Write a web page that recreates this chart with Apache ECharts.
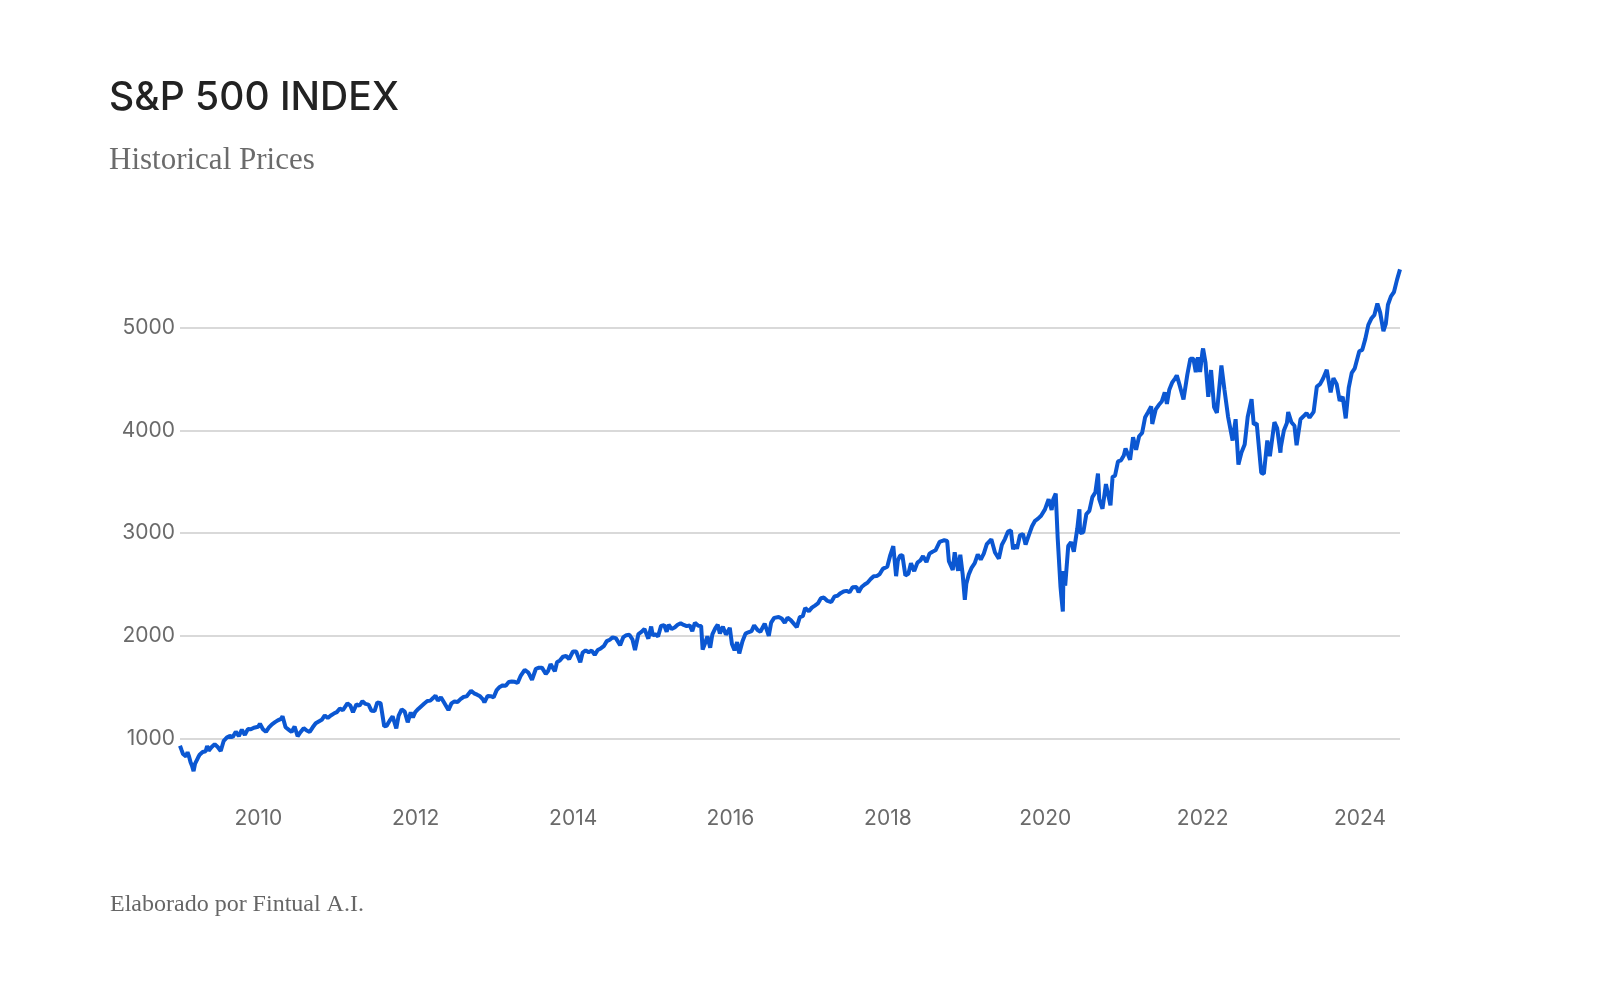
<!DOCTYPE html>
<html>
<head>
<meta charset="utf-8">
<script src="https://cdn.jsdelivr.net/npm/echarts@6/dist/echarts.min.js"></script>
<style>
html,body{margin:0;padding:0;background:#fff;}
#chart{width:1600px;height:1000px;}
</style>
</head>
<body>
<div id="chart"></div>
<script>
// ---- Data (approximate S&P 500 levels) ----
const title = 'S&P 500 INDEX';
const subtitle = 'Historical Prices';
const footer = 'Elaborado por Fintual A.I.';
const yTicks = [1000, 2000, 3000, 4000, 5000];
const xTicks = ['2010-01-01','2012-01-01','2014-01-01','2016-01-01','2018-01-01','2020-01-01','2022-01-01','2024-01-01'];

const p2009 = [['2009-01-02',931],['2009-01-09',890],['2009-01-16',850],['2009-01-23',832],['2009-01-30',826],['2009-02-06',869],['2009-02-13',827],['2009-02-20',770],['2009-02-27',735],['2009-03-06',683],['2009-03-13',756],['2009-03-20',768],['2009-03-27',816],['2009-04-03',843],['2009-04-17',870],['2009-05-01',877],['2009-05-08',929],['2009-05-15',882],['2009-05-29',919],['2009-06-12',946],['2009-06-26',918],['2009-07-10',879],['2009-07-24',979],['2009-08-07',1010],['2009-08-21',1026],['2009-09-04',1016],['2009-09-18',1068],['2009-10-02',1025],['2009-10-16',1087],['2009-10-30',1036],['2009-11-13',1093],['2009-11-27',1091],['2009-12-11',1106],['2009-12-31',1115]];
const p2010 = [['2010-01-08',1145],['2010-01-22',1092],['2010-02-05',1066],['2010-02-19',1109],['2010-03-05',1139],['2010-03-19',1160],['2010-04-01',1178],['2010-04-16',1192],['2010-04-23',1217],['2010-05-07',1111],['2010-05-21',1088],['2010-06-04',1065],['2010-06-18',1117],['2010-07-02',1023],['2010-07-16',1065],['2010-07-30',1102],['2010-08-13',1079],['2010-08-27',1065],['2010-09-10',1110],['2010-09-24',1149],['2010-10-08',1166],['2010-10-22',1183],['2010-11-05',1226],['2010-11-19',1200],['2010-12-03',1225],['2010-12-17',1244],['2010-12-31',1258]];
const p2011 = [['2011-01-14',1293],['2011-01-28',1276],['2011-02-18',1343],['2011-03-04',1321],['2011-03-16',1257],['2011-04-01',1333],['2011-04-15',1320],['2011-04-29',1364],['2011-05-13',1338],['2011-05-27',1331],['2011-06-10',1271],['2011-06-24',1268],['2011-07-07',1353],['2011-07-22',1345],['2011-08-08',1119],['2011-08-19',1124],['2011-09-02',1174],['2011-09-16',1216],['2011-10-03',1099],['2011-10-14',1225],['2011-10-28',1285],['2011-11-11',1263],['2011-11-25',1159],['2011-12-09',1255],['2011-12-19',1206],['2011-12-30',1258]];
const p2012 = [['2012-01-13',1289],['2012-01-27',1316],['2012-02-10',1342],['2012-02-24',1366],['2012-03-09',1370],['2012-03-23',1397],['2012-04-02',1419],['2012-04-13',1370],['2012-04-27',1403],['2012-05-11',1353],['2012-06-01',1278],['2012-06-15',1343],['2012-06-29',1362],['2012-07-13',1356],['2012-07-27',1385],['2012-08-10',1405],['2012-08-24',1411],['2012-09-14',1466],['2012-09-28',1441],['2012-10-12',1428],['2012-10-26',1412],['2012-11-09',1380],['2012-11-15',1353],['2012-11-30',1416],['2012-12-14',1413],['2012-12-28',1402]];
const p2013 = [['2013-01-11',1472],['2013-01-25',1503],['2013-02-08',1518],['2013-02-22',1515],['2013-03-08',1551],['2013-03-22',1556],['2013-04-05',1553],['2013-04-18',1541],['2013-05-03',1614],['2013-05-21',1669],['2013-06-07',1643],['2013-06-24',1573],['2013-07-12',1680],['2013-07-26',1691],['2013-08-09',1691],['2013-08-27',1630],['2013-09-06',1655],['2013-09-18',1725],['2013-10-08',1656],['2013-10-18',1744],['2013-11-01',1762],['2013-11-15',1798],['2013-11-29',1806],['2013-12-13',1775],['2013-12-31',1848]];
const p2014 = [['2014-01-15',1848],['2014-02-03',1742],['2014-02-14',1838],['2014-02-28',1859],['2014-03-14',1841],['2014-03-28',1857],['2014-04-11',1815],['2014-04-25',1863],['2014-05-09',1878],['2014-05-23',1900],['2014-06-06',1949],['2014-06-20',1963],['2014-07-03',1985],['2014-07-18',1978],['2014-08-07',1910],['2014-08-22',1988],['2014-09-05',2007],['2014-09-19',2011],['2014-10-03',1967],['2014-10-15',1862],['2014-10-31',2018],['2014-11-14',2039],['2014-11-28',2068],['2014-12-16',1973],['2014-12-29',2091]];
const p2015 = [['2015-01-06',2003],['2015-01-16',2019],['2015-01-30',1995],['2015-02-13',2097],['2015-02-27',2105],['2015-03-11',2040],['2015-03-20',2108],['2015-04-03',2067],['2015-04-17',2081],['2015-05-01',2108],['2015-05-15',2123],['2015-05-29',2107],['2015-06-12',2095],['2015-06-26',2102],['2015-07-08',2047],['2015-07-20',2128],['2015-08-05',2099],['2015-08-18',2097],['2015-08-25',1867],['2015-09-04',1921],['2015-09-16',1996],['2015-09-29',1884],['2015-10-09',2014],['2015-10-23',2075],['2015-11-03',2109],['2015-11-13',2023],['2015-11-27',2090],['2015-12-11',2012],['2015-12-29',2078]];
const p2016 = [['2016-01-08',1922],['2016-01-20',1859],['2016-02-01',1940],['2016-02-11',1829],['2016-02-26',1948],['2016-03-11',2022],['2016-03-24',2035],['2016-04-08',2047],['2016-04-20',2102],['2016-05-06',2057],['2016-05-19',2040],['2016-06-08',2119],['2016-06-27',2000],['2016-07-08',2129],['2016-07-22',2175],['2016-08-12',2184],['2016-08-26',2169],['2016-09-09',2128],['2016-09-22',2177],['2016-10-07',2153],['2016-11-04',2085],['2016-11-18',2182],['2016-12-02',2192],['2016-12-13',2271],['2016-12-30',2239]];
const p2017 = [['2017-01-13',2275],['2017-01-27',2295],['2017-02-10',2316],['2017-02-24',2367],['2017-03-10',2373],['2017-03-24',2344],['2017-04-13',2329],['2017-04-28',2384],['2017-05-12',2391],['2017-05-26',2416],['2017-06-09',2432],['2017-06-23',2438],['2017-07-07',2425],['2017-07-21',2473],['2017-08-08',2475],['2017-08-18',2426],['2017-09-01',2476],['2017-09-15',2500],['2017-09-29',2519],['2017-10-13',2553],['2017-10-27',2581],['2017-11-10',2582],['2017-11-24',2602],['2017-12-08',2652],['2017-12-29',2674]];
const p2018 = [['2018-01-12',2786],['2018-01-26',2873],['2018-02-08',2581],['2018-02-16',2732],['2018-02-26',2780],['2018-03-09',2786],['2018-03-23',2588],['2018-04-06',2604],['2018-04-18',2708],['2018-05-03',2630],['2018-05-18',2713],['2018-06-01',2735],['2018-06-13',2776],['2018-06-29',2718],['2018-07-13',2801],['2018-07-27',2819],['2018-08-10',2833],['2018-08-29',2914],['2018-09-20',2931],['2018-10-03',2925],['2018-10-11',2728],['2018-10-29',2641],['2018-11-07',2814],['2018-11-23',2633],['2018-12-03',2790],['2018-12-14',2600],['2018-12-24',2351],['2018-12-31',2507]];
const p2019 = [['2019-01-11',2596],['2019-01-25',2665],['2019-02-08',2708],['2019-02-22',2793],['2019-03-08',2743],['2019-03-22',2801],['2019-04-05',2893],['2019-04-26',2940],['2019-05-03',2946],['2019-05-13',2812],['2019-05-31',2752],['2019-06-14',2887],['2019-06-28',2942],['2019-07-12',3014],['2019-07-26',3026],['2019-08-05',2844],['2019-08-16',2889],['2019-08-23',2847],['2019-09-06',2979],['2019-09-20',2992],['2019-10-02',2888],['2019-10-18',2986],['2019-11-01',3067],['2019-11-15',3120],['2019-11-29',3141],['2019-12-13',3169],['2019-12-31',3231]];
const p2020 = [['2020-01-17',3330],['2020-01-31',3226],['2020-02-07',3328],['2020-02-19',3386],['2020-02-28',2954],['2020-03-06',2972],['2020-03-12',2481],['2020-03-16',2386],['2020-03-23',2237],['2020-03-26',2630],['2020-04-03',2489],['2020-04-17',2875],['2020-04-30',2912],['2020-05-13',2820],['2020-05-29',3044],['2020-06-08',3232],['2020-06-11',3002],['2020-06-26',3009],['2020-07-10',3185],['2020-07-24',3216],['2020-08-07',3351],['2020-08-21',3397],['2020-09-02',3580],['2020-09-08',3332],['2020-09-23',3237],['2020-10-09',3477],['2020-10-30',3270],['2020-11-09',3550],['2020-11-20',3557],['2020-12-04',3699],['2020-12-18',3709],['2020-12-31',3756]];
const p2021 = [['2021-01-08',3825],['2021-01-29',3714],['2021-02-12',3934],['2021-02-26',3811],['2021-03-12',3943],['2021-03-26',3975],['2021-04-09',4129],['2021-04-23',4180],['2021-05-07',4233],['2021-05-12',4063],['2021-05-28',4204],['2021-06-11',4247],['2021-06-25',4281],['2021-07-09',4370],['2021-07-19',4258],['2021-07-30',4395],['2021-08-13',4468],['2021-08-27',4509],['2021-09-03',4535],['2021-09-17',4433],['2021-10-04',4300],['2021-10-22',4545],['2021-11-05',4698],['2021-11-19',4698],['2021-11-30',4567],['2021-12-10',4712],['2021-12-20',4568],['2021-12-31',4766]];
const p2022 = [['2022-01-03',4797],['2022-01-14',4663],['2022-01-27',4326],['2022-02-09',4587],['2022-02-23',4226],['2022-03-08',4170],['2022-03-29',4632],['2022-04-12',4397],['2022-04-29',4132],['2022-05-06',4123],['2022-05-20',3901],['2022-06-03',4109],['2022-06-16',3667],['2022-06-30',3785],['2022-07-15',3863],['2022-07-29',4130],['2022-08-16',4305],['2022-08-26',4058],['2022-09-09',4067],['2022-09-30',3586],['2022-10-12',3577],['2022-10-28',3901],['2022-11-09',3749],['2022-11-30',4080],['2022-12-13',4019],['2022-12-28',3783],['2022-12-30',3840]];
const p2023 = [['2023-01-13',3999],['2023-01-27',4071],['2023-02-02',4179],['2023-02-17',4079],['2023-03-03',4045],['2023-03-13',3855],['2023-03-31',4109],['2023-04-14',4137],['2023-04-28',4169],['2023-05-12',4124],['2023-05-31',4180],['2023-06-15',4426],['2023-06-30',4450],['2023-07-14',4505],['2023-07-31',4589],['2023-08-18',4370],['2023-08-31',4508],['2023-09-15',4450],['2023-09-29',4288],['2023-10-13',4327],['2023-10-27',4117],['2023-11-10',4415],['2023-11-24',4559],['2023-12-08',4604],['2023-12-29',4770]];
const p2024 = [['2024-01-12',4784],['2024-01-26',4891],['2024-02-09',5027],['2024-02-23',5088],['2024-03-08',5124],['2024-03-22',5234],['2024-04-04',5147],['2024-04-19',4967],['2024-04-30',5036],['2024-05-10',5223],['2024-05-24',5305],['2024-06-07',5347],['2024-06-21',5465],['2024-07-05',5567]];

const prices = [].concat(p2009,p2010,p2011,p2012,p2013,p2014,p2015,p2016,p2017,p2018,p2019,p2020,p2021,p2022,p2023,p2024);
const seriesData = prices.map(p => [Date.parse(p[0]), p[1]]);
const xTickValues = xTicks.map(d => Date.parse(d));

const chart = echarts.init(document.getElementById('chart'), null, {renderer:'canvas'});
chart.setOption({
  backgroundColor:'#ffffff',
  animation:false,
  grid:{left:180, right:200, top:266, bottom:210, containLabel:false, outerBoundsMode:'none'},
  graphic:[
    {type:'text', left:109, top:79, style:{text:title, fill:'#222222', font:'500 39px Inter'}},
    {type:'text', left:109, top:145, style:{text:subtitle, fill:'#6b6b6b', font:'31px "Liberation Serif"'}},
    {type:'text', left:110, top:893, style:{text:footer, fill:'#666666', font:'24px "Liberation Serif"'}}
  ],
  xAxis:{
    type:'value',
    min:seriesData[0][0],
    max:seriesData[seriesData.length-1][0],
    axisLine:{show:false},
    axisTick:{show:false, customValues:xTickValues},
    splitLine:{show:false},
    axisLabel:{
      customValues:xTickValues,
      formatter:(v)=>String(new Date(v).getUTCFullYear()),
      color:'#6a6a6a', fontFamily:'Inter', fontSize:21, margin:18
    }
  },
  yAxis:{
    type:'value',
    min:500, max:5600,
    axisLine:{show:false},
    axisTick:{show:false, customValues:yTicks},
    axisLabel:{customValues:yTicks, formatter:(v)=>String(v), color:'#6a6a6a', fontFamily:'Inter', fontSize:21, margin:5},
    splitLine:{show:true, lineStyle:{color:'#cccccc', width:1.5}}
  },
  series:[{
    type:'line',
    data:seriesData,
    showSymbol:false,
    lineStyle:{color:'#0b57d2', width:4},
    itemStyle:{color:'#0b57d2'}
  }]
});
</script>
</body>
</html>
